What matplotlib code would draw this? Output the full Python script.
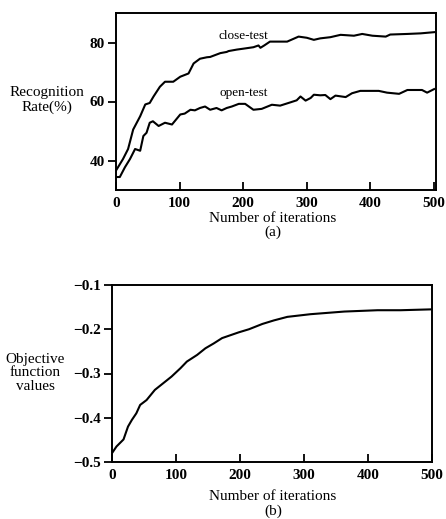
import matplotlib
matplotlib.use("Agg")
import matplotlib.pyplot as plt

# ---- data (a) ----
close_iter = [0, 11, 19, 27, 38, 46, 53, 59, 69, 77, 90, 101, 114, 122, 132, 143, 148, 164, 174,
              177, 190, 200, 216, 224, 227, 233, 242, 269, 287, 300, 311, 321, 337, 353, 374, 387,
              403, 424, 431, 458, 479, 500]
close_rate = [36.6, 40.5, 43.9, 50.5, 55.0, 59.0, 59.5, 61.7, 65.0, 66.7, 66.7, 68.4, 69.5, 72.9,
              74.5, 75.0, 75.1, 76.4, 76.8, 77.1, 77.6, 77.9, 78.4, 79.0, 78.2, 79.0, 80.3, 80.3,
              82.0, 81.6, 80.9, 81.4, 81.8, 82.6, 82.3, 82.9, 82.3, 82.0, 82.7, 82.9, 83.1, 83.5]

open_iter = [0, 6, 14, 22, 30, 38, 43, 48, 53, 58, 67, 77, 88, 101, 108, 117, 124, 132, 140, 148,
             158, 166, 174, 182, 193, 203, 216, 229, 245, 258, 274, 284, 290, 298, 306, 311, 321,
             329, 337, 345, 361, 371, 384, 413, 426, 445, 458, 481, 489, 500]
open_rate = [34.4, 34.4, 37.7, 40.5, 43.9, 43.3, 48.3, 49.4, 52.8, 53.3, 51.7, 52.8, 52.2, 55.6,
             55.9, 57.2, 57.0, 57.8, 58.3, 57.2, 57.8, 57.0, 57.8, 58.3, 59.2, 59.2, 57.2, 57.5,
             58.9, 58.6, 59.7, 60.4, 61.7, 60.3, 61.2, 62.3, 62.1, 62.2, 60.8, 62.0, 61.5, 62.8,
             63.6, 63.6, 63.0, 62.6, 63.9, 63.9, 63.0, 64.2]

# ---- data (b) ----
obj_iter = [0, 7, 18, 25, 31, 38, 44, 54, 67, 80, 93, 107, 117, 133, 146, 159, 172, 198, 214,
            235, 253, 274, 310, 363, 415, 451, 500]
obj_val = [-0.480, -0.465, -0.449, -0.420, -0.405, -0.390, -0.371, -0.360, -0.337, -0.322,
           -0.307, -0.288, -0.273, -0.258, -0.243, -0.232, -0.220, -0.207, -0.200, -0.188,
           -0.180, -0.172, -0.166, -0.160, -0.157, -0.157, -0.155]

xticks = [0, 100, 200, 300, 400, 500]
yticks_a = [40, 60, 80]
yticks_b = [-0.5, -0.4, -0.3, -0.2, -0.1]
yticklabels_b = ['\u22120.5', '\u22120.4', '\u22120.3', '\u22120.2', '\u22120.1']

plt.rcParams['font.family'] = ['Liberation Serif', 'DejaVu Serif']

W, H = 446, 519
fig = plt.figure(figsize=(W / 100, H / 100), dpi=100)

def px(x0, y0, x1, y1):
    return [x0 / W, 1 - y1 / H, (x1 - x0) / W, (y1 - y0) / H]

def style(ax):
    for s in ax.spines.values():
        s.set_linewidth(1.4)
    ax.tick_params(axis='x', direction='in', length=6, width=1.3, pad=5, labelsize=11)
    ax.tick_params(axis='y', direction='out', length=6, width=1.3, pad=2, labelsize=11)
    for lab in ax.get_xticklabels() + ax.get_yticklabels():
        lab.set_fontweight('bold')

# (a)
ax1 = fig.add_axes(px(116, 13, 436, 190))
ax1.plot(close_iter, close_rate, color='black', lw=1.5)
ax1.plot(open_iter, open_rate, color='black', lw=1.5)
ax1.set_xlim(0, 503)
ax1.set_ylim(30, 90)
ax1.set_xticks(xticks)
ax1.set_yticks(yticks_a)
style(ax1)
ax1.text(200, 82.2, 'close-test', ha='center', va='center', fontsize=9.5)
ax1.text(200, 63.0, 'open-test', ha='center', va='center', fontsize=9.5)

# (b)
ax2 = fig.add_axes(px(112, 285, 432, 462))
ax2.plot(obj_iter, obj_val, color='black', lw=1.5)
ax2.set_xlim(0, 500)
ax2.set_ylim(-0.5, -0.1)
ax2.set_xticks(xticks)
ax2.set_yticks(yticks_b)
ax2.set_yticklabels(yticklabels_b)
style(ax2)

def ftext(x, y, s, **kw):
    fig.text(x / W, 1 - y / H, s, ha='center', va='center', fontsize=11, **kw)

ftext(47, 100, 'Recognition\nRate(%)', linespacing=1.15)
ftext(273, 218, 'Number of iterations')
ftext(273, 232, '(a)')
ftext(35, 373, 'Objective\nfunction\nvalues', linespacing=1.1)
ftext(273, 497, 'Number of iterations')
ftext(273, 511, '(b)')

fig.savefig('out.png', dpi=100)
